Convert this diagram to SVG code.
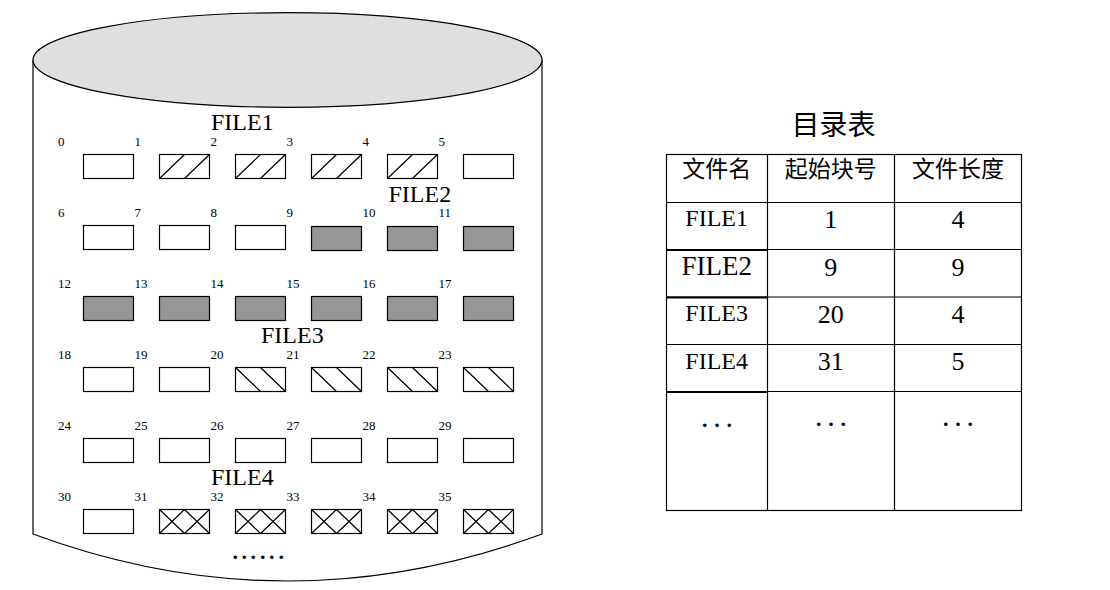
<svg xmlns="http://www.w3.org/2000/svg" xmlns:xlink="http://www.w3.org/1999/xlink" width="1110" height="590" viewBox="0 0 1110 590">
<style>
.ln{fill:none;stroke:#000;stroke-width:1.2}
.box{fill:#fff;stroke:#000;stroke-width:1.2}
.gray{fill:#969696;stroke:#000;stroke-width:1.2}
.num{font-family:"Liberation Serif",serif;font-size:13px;fill:#000}
.file{font-family:"Liberation Serif",serif;font-size:24px;fill:#000}
.cjk{font-family:"Liberation Serif","Noto Sans CJK SC",serif;fill:#000;text-anchor:middle}
.cell{font-family:"Liberation Serif",serif;fill:#000;text-anchor:middle}
.dots{font-family:"Liberation Serif",serif;font-weight:bold;fill:#000}
</style>
<defs>
<g id="slash"><rect class="box" x="0" y="0" width="50" height="24"/><path class="ln" d="M0,24 L25,0 M25,24 L50,0"/></g>
<g id="back"><rect class="box" x="0" y="0" width="50" height="24"/><path class="ln" d="M0,0 L25,24 M25,0 L50,24"/></g>
<g id="cross"><rect class="box" x="0" y="0" width="50" height="24"/><path class="ln" d="M0,0 L25,24 M25,0 L50,24 M0,24 L25,0 M25,24 L50,0"/></g>
<rect id="empty" class="box" x="0" y="0" width="50" height="24"/>
<rect id="full" class="gray" x="0" y="0" width="50" height="24"/>
</defs>
<g id="disk">
<path class="ln" d="M33,60 L33,534 Q287.5,628 542,534 L542,60"/>
<ellipse cx="287.5" cy="60" rx="254.5" ry="47.3" fill="#dfdfdf" stroke="#000" stroke-width="1.2"/>
</g>
<g id="blocks">
<use xlink:href="#empty" x="83.5" y="154.5"/>
<use xlink:href="#slash" x="159.5" y="154.5"/>
<use xlink:href="#slash" x="235.5" y="154.5"/>
<use xlink:href="#slash" x="311.5" y="154.5"/>
<use xlink:href="#slash" x="387.5" y="154.5"/>
<use xlink:href="#empty" x="463.5" y="154.5"/>
<use xlink:href="#empty" x="83.5" y="225.5"/>
<use xlink:href="#empty" x="159.5" y="225.5"/>
<use xlink:href="#empty" x="235.5" y="225.5"/>
<use xlink:href="#full" x="311.5" y="226.5"/>
<use xlink:href="#full" x="387.5" y="226.5"/>
<use xlink:href="#full" x="463.5" y="226.5"/>
<use xlink:href="#full" x="83.5" y="296.5"/>
<use xlink:href="#full" x="159.5" y="296.5"/>
<use xlink:href="#full" x="235.5" y="296.5"/>
<use xlink:href="#full" x="311.5" y="296.5"/>
<use xlink:href="#full" x="387.5" y="296.5"/>
<use xlink:href="#full" x="463.5" y="296.5"/>
<use xlink:href="#empty" x="83.5" y="367.5"/>
<use xlink:href="#empty" x="159.5" y="367.5"/>
<use xlink:href="#back" x="235.5" y="367.5"/>
<use xlink:href="#back" x="311.5" y="367.5"/>
<use xlink:href="#back" x="387.5" y="367.5"/>
<use xlink:href="#back" x="463.5" y="367.5"/>
<use xlink:href="#empty" x="83.5" y="438.5"/>
<use xlink:href="#empty" x="159.5" y="438.5"/>
<use xlink:href="#empty" x="235.5" y="438.5"/>
<use xlink:href="#empty" x="311.5" y="438.5"/>
<use xlink:href="#empty" x="387.5" y="438.5"/>
<use xlink:href="#empty" x="463.5" y="438.5"/>
<use xlink:href="#empty" x="83.5" y="509.5"/>
<use xlink:href="#cross" x="159.5" y="509.5"/>
<use xlink:href="#cross" x="235.5" y="509.5"/>
<use xlink:href="#cross" x="311.5" y="509.5"/>
<use xlink:href="#cross" x="387.5" y="509.5"/>
<use xlink:href="#cross" x="463.5" y="509.5"/>
</g>
<g id="block-numbers" class="num">
<text x="58" y="145.5">0</text><text x="134.5" y="145.5">1</text><text x="210.5" y="145.5">2</text><text x="286.5" y="145.5">3</text><text x="362.5" y="145.5">4</text><text x="438.5" y="145.5">5</text>
<text x="58" y="216.5">6</text><text x="134.5" y="216.5">7</text><text x="210.5" y="216.5">8</text><text x="286.5" y="216.5">9</text><text x="362.5" y="216.5">10</text><text x="438.5" y="216.5">11</text>
<text x="58" y="287.5">12</text><text x="134.5" y="287.5">13</text><text x="210.5" y="287.5">14</text><text x="286.5" y="287.5">15</text><text x="362.5" y="287.5">16</text><text x="438.5" y="287.5">17</text>
<text x="58" y="358.5">18</text><text x="134.5" y="358.5">19</text><text x="210.5" y="358.5">20</text><text x="286.5" y="358.5">21</text><text x="362.5" y="358.5">22</text><text x="438.5" y="358.5">23</text>
<text x="58" y="429.5">24</text><text x="134.5" y="429.5">25</text><text x="210.5" y="429.5">26</text><text x="286.5" y="429.5">27</text><text x="362.5" y="429.5">28</text><text x="438.5" y="429.5">29</text>
<text x="58" y="500.5">30</text><text x="134.5" y="500.5">31</text><text x="210.5" y="500.5">32</text><text x="286.5" y="500.5">33</text><text x="362.5" y="500.5">34</text><text x="438.5" y="500.5">35</text>
</g>
<g id="file-labels" class="file">
<text x="211" y="130">FILE1</text>
<text x="388.5" y="201.5">FILE2</text>
<text x="261" y="342.5">FILE3</text>
<text x="211" y="485">FILE4</text>
</g>
<text class="dots" font-size="22" x="232.5 241.5 250.5 260 269 278.5" y="559">......</text>
<g id="directory">
<text class="cjk" x="833.5" y="135" font-size="28">目录表</text>
<g class="ln">
<rect x="666.5" y="154.5" width="355" height="356"/>
<line x1="767.5" y1="154.5" x2="767.5" y2="510.5"/>
<line x1="894.5" y1="154.5" x2="894.5" y2="510.5"/>
<line x1="666.5" y1="202.5" x2="1021.5" y2="202.5"/>
<line x1="666.5" y1="249.5" x2="1021.5" y2="249.5"/>
<line x1="666.5" y1="297" x2="1021.5" y2="297"/>
<line x1="666.5" y1="344.5" x2="1021.5" y2="344.5"/>
<line x1="666.5" y1="391.5" x2="1021.5" y2="391.5"/>
</g>
<g stroke="#000" stroke-width="2">
<line x1="666.5" y1="250" x2="767.5" y2="250"/>
<line x1="666.5" y1="297.5" x2="767.5" y2="297.5"/>
<line x1="666.5" y1="392" x2="767.5" y2="392"/>
</g>
<g class="cjk" font-size="23">
<text x="716.7" y="177">文件名</text>
<text x="830.8" y="177">起始块号</text>
<text x="958" y="177">文件长度</text>
</g>
<g class="cell" font-size="24">
<text x="716.7" y="226">FILE1</text>
<text x="716.7" y="275" font-size="27">FILE2</text>
<text x="716.7" y="321">FILE3</text>
<text x="716.7" y="368.5">FILE4</text>
</g>
<g class="cell" font-size="26">
<text x="830.8" y="228">1</text><text x="958" y="228">4</text>
<text x="830.8" y="276">9</text><text x="958" y="276">9</text>
<text x="830.8" y="322.5">20</text><text x="958" y="322.5">4</text>
<text x="830.8" y="370">31</text><text x="958" y="370">5</text>
</g>
<g class="dots" font-size="22">
<text x="702 714.3 726.6" y="427">...</text>
<text x="816 828.3 840.6" y="426">...</text>
<text x="943 955.3 967.6" y="426">...</text>
</g>
</g>
</svg>
